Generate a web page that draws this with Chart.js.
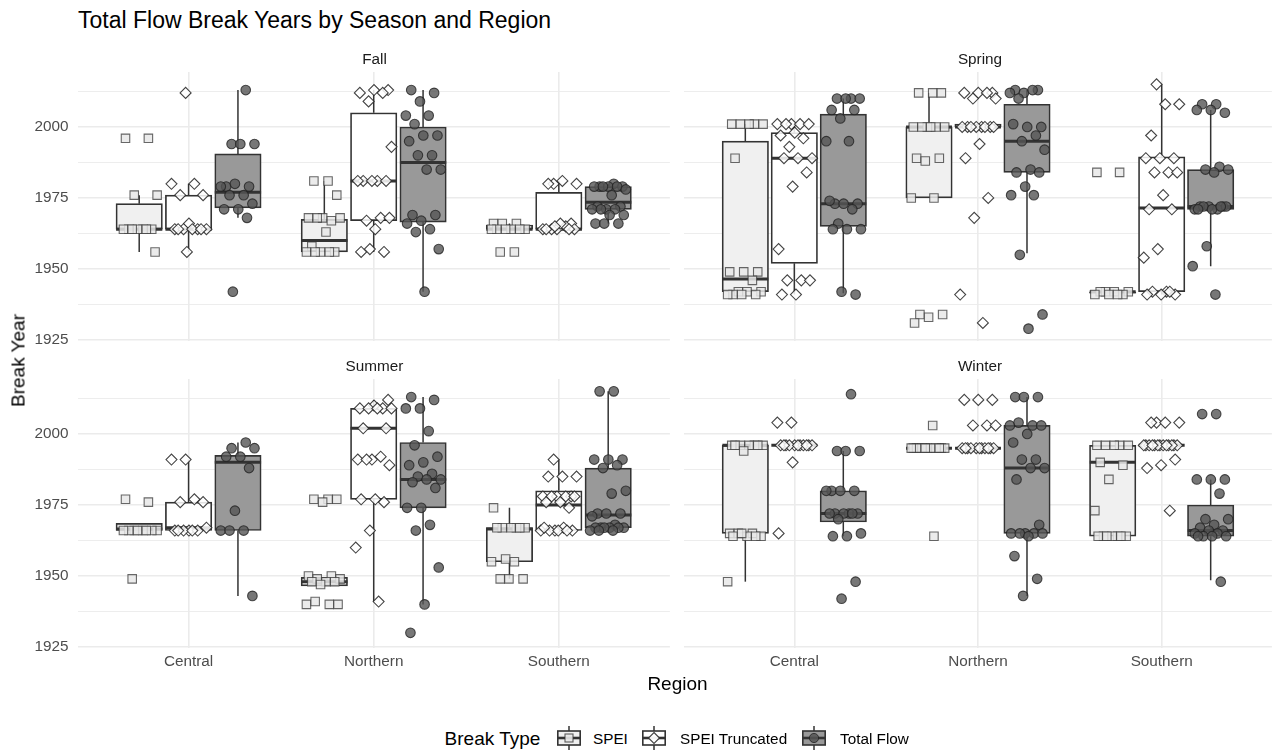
<!DOCTYPE html>
<html>
<head>
<meta charset="utf-8">
<title>Total Flow Break Years by Season and Region</title>
<script src="https://cdn.jsdelivr.net/npm/chart.js@4.4.1/dist/chart.umd.min.js"></script>
<style>
  body { margin: 0; background: #ffffff; }
  #fig { position: relative; width: 1279px; height: 754px; overflow: hidden;
         font-family: 'Liberation Sans', Arial, Helvetica, sans-serif; background: #ffffff; }
  .t { position: absolute; line-height: 1; white-space: nowrap; }
  canvas { position: absolute; }
  .key { position: absolute; }
</style>
</head>
<body>
<div id="fig">
  <canvas id="c0" width="677" height="309" style="left:0px;top:52px"></canvas>
  <canvas id="c1" width="602" height="309" style="left:677px;top:52px"></canvas>
  <canvas id="c2" width="677" height="321" style="left:0px;top:359px"></canvas>
  <canvas id="c3" width="602" height="321" style="left:677px;top:359px"></canvas>

  <div class="t" style="left:78px;top:8.8px;font-size:23px;color:#000">Total Flow Break Years by Season and Region</div>

  <div class="t" id="s0" style="left:77.5px;width:594px;text-align:center;top:50.8px;font-size:15.3px;color:#1a1a1a"></div>
  <div class="t" id="s1" style="left:682.5px;width:595px;text-align:center;top:50.8px;font-size:15.3px;color:#1a1a1a"></div>
  <div class="t" id="s2" style="left:77.5px;width:594px;text-align:center;top:358px;font-size:15.3px;color:#1a1a1a"></div>
  <div class="t" id="s3" style="left:682.5px;width:595px;text-align:center;top:358px;font-size:15.3px;color:#1a1a1a"></div>

  <div class="t" style="left:-82.3px;top:350.5px;width:200px;text-align:center;font-size:19px;line-height:19px;color:#000;transform:rotate(-90deg)">Break Year</div>
  <div class="t" style="left:577.5px;width:200px;text-align:center;top:674px;font-size:19px;color:#000">Region</div>

  <div class="t" style="left:444.6px;top:728.7px;font-size:19px;color:#000">Break Type</div>
  <svg class="key" style="left:557px;top:726px" width="24" height="24" viewBox="0 0 24 24">
    <line x1="12" y1="0" x2="12" y2="5" stroke="#333" stroke-width="1.5"/>
    <line x1="12" y1="19" x2="12" y2="24" stroke="#333" stroke-width="1.5"/>
    <rect x="0.8" y="5" width="22.4" height="14" fill="#f0f0f0" stroke="#333" stroke-width="1.6"/>
    <line x1="0.8" y1="12" x2="23.2" y2="12" stroke="#333" stroke-width="2.6"/>
    <rect x="8" y="8" width="8" height="8" fill="rgba(232,232,232,0.9)" stroke="rgba(55,55,55,0.8)" stroke-width="1.1"/>
  </svg>
  <div class="t" id="k0" style="left:593px;top:730.5px;font-size:15.3px;color:#000"></div>
  <svg class="key" style="left:642px;top:726px" width="24" height="24" viewBox="0 0 24 24">
    <line x1="12" y1="0" x2="12" y2="5" stroke="#333" stroke-width="1.5"/>
    <line x1="12" y1="19" x2="12" y2="24" stroke="#333" stroke-width="1.5"/>
    <rect x="0.8" y="5" width="22.4" height="14" fill="#ffffff" stroke="#333" stroke-width="1.6"/>
    <line x1="0.8" y1="12" x2="23.2" y2="12" stroke="#333" stroke-width="2.6"/>
    <polygon points="12,6.5 17.5,12 12,17.5 6.5,12" fill="rgba(255,255,255,0.95)" stroke="rgba(35,35,35,0.85)" stroke-width="1.1"/>
  </svg>
  <div class="t" id="k1" style="left:680px;top:730.5px;font-size:15.3px;color:#000"></div>
  <svg class="key" style="left:802px;top:726px" width="24" height="24" viewBox="0 0 24 24">
    <line x1="12" y1="0" x2="12" y2="5" stroke="#333" stroke-width="1.5"/>
    <line x1="12" y1="19" x2="12" y2="24" stroke="#333" stroke-width="1.5"/>
    <rect x="0.8" y="5" width="22.4" height="14" fill="#999999" stroke="#333" stroke-width="1.6"/>
    <line x1="0.8" y1="12" x2="23.2" y2="12" stroke="#333" stroke-width="2.6"/>
    <circle cx="12" cy="12" r="4.6" fill="rgba(85,85,85,0.85)" stroke="rgba(35,35,35,0.8)" stroke-width="1"/>
  </svg>
  <div class="t" id="k2" style="left:840px;top:730.5px;font-size:15.3px;color:#000"></div>
</div>

<script>
// ---- categories and labels ----
const SEASONS = ['Fall', 'Spring', 'Summer', 'Winter'];
const REGIONS = ['Central', 'Northern', 'Southern'];
const BREAK_TYPES = ['SPEI', 'SPEI Truncated', 'Total Flow'];
const Y_TICKS = [1925, 1950, 1975, 2000];

// ---- break years, per region (Central, Northern, Southern) ----
const fallSpei = [
  [1996, 1996, 1976, 1976, 1964, 1964, 1964, 1964, 1964, 1964, 1964, 1956],
  [1981, 1981, 1976, 1968, 1968, 1967, 1968, 1968, 1963, 1958, 1956, 1956, 1956, 1956, 1956],
  [1966, 1966, 1966, 1964, 1964, 1964, 1964, 1964, 1964, 1956, 1956]
];
const fallSpeiTrunc = [
  [2012, 1980, 1980, 1976, 1976, 1966, 1964, 1964, 1964, 1964, 1964, 1964, 1964, 1956],
  [2013, 2013, 2012, 2012, 2009, 1993, 1981, 1981, 1981, 1981, 1981, 1968, 1967, 1968, 1964, 1956, 1956, 1957],
  [1980, 1980, 1981, 1980, 1966, 1964, 1964, 1965, 1964, 1964, 1966, 1964, 1964, 1965]
];
const fallTotalFlow = [
  [2013, 1994, 1994, 1994, 1979, 1979, 1980, 1979, 1976, 1976, 1973, 1971, 1971, 1968, 1942],
  [2013, 2012, 2009, 2004, 2004, 2001, 1997, 1997, 1995, 1990, 1990, 1985, 1985, 1969, 1969, 1967, 1966, 1964, 1963, 1957, 1942],
  [1980, 1979, 1979, 1979, 1979, 1979, 1979, 1978, 1976, 1972, 1972, 1971, 1971, 1971, 1971, 1969, 1969, 1966, 1966, 1966]
];

const springSpei = [
  [2001, 2001, 2001, 2001, 2001, 1989, 1949, 1949, 1949, 1946, 1942, 1942, 1942, 1941, 1941, 1941, 1941],
  [2012, 2012, 2012, 2000, 2000, 2000, 2000, 2000, 2000, 1989, 1989, 1988, 1975, 1975, 1934, 1934, 1933, 1931],
  [1984, 1984, 1942, 1942, 1942, 1942, 1941, 1941, 1941, 1941]
];
const springSpeiTrunc = [
  [2001, 2001, 2001, 2001, 2001, 1998, 1997, 1996, 1993, 1989, 1989, 1989, 1984, 1979, 1957, 1946, 1946, 1946, 1941, 1941],
  [2012, 2012, 2012, 2012, 2010, 2010, 2000, 2000, 2000, 2000, 2000, 2000, 2000, 2000, 1994, 1989, 1975, 1968, 1941, 1931],
  [2015, 2008, 2008, 1997, 1989, 1989, 1989, 1984, 1984, 1984, 1976, 1971, 1971, 1957, 1954, 1942, 1942, 1941, 1941, 1941, 1942]
];
const springTotalFlow = [
  [2010, 2010, 2010, 2010, 2006, 2006, 2003, 1995, 1995, 1973, 1973, 1973, 1974, 1971, 1966, 1964, 1964, 1964, 1941, 1942],
  [2013, 2013, 2012, 2012, 2013, 2010, 2000, 2000, 2001, 1997, 1995, 1992, 1985, 1984, 1984, 1979, 1976, 1976, 1955, 1934, 1929],
  [2008, 2008, 2005, 2006, 2006, 1986, 1985, 1985, 1984, 1972, 1972, 1972, 1971, 1971, 1972, 1972, 1971, 1971, 1972, 1958, 1951, 1941]
];

const summerSpei = [
  [1977, 1976, 1966, 1966, 1966, 1966, 1966, 1966, 1966, 1966, 1949],
  [1977, 1977, 1977, 1976, 1950, 1950, 1949, 1949, 1948, 1948, 1948, 1947, 1940, 1940, 1941, 1940],
  [1974, 1967, 1967, 1967, 1967, 1967, 1967, 1956, 1955, 1955, 1949, 1949, 1949]
];
const summerSpeiTrunc = [
  [1991, 1991, 1977, 1976, 1976, 1966, 1966, 1966, 1966, 1967, 1966, 1966],
  [2012, 2010, 2009, 2009, 2009, 2009, 2009, 2002, 2002, 1991, 1991, 1992, 1991, 1989, 1977, 1977, 1976, 1966, 1960, 1941],
  [1991, 1985, 1985, 1985, 1978, 1978, 1978, 1978, 1978, 1978, 1976, 1976, 1974, 1966, 1966, 1967, 1966, 1966, 1966, 1967, 1966]
];
const summerTotalFlow = [
  [1997, 1995, 1995, 1992, 1992, 1988, 1973, 1966, 1966, 1966, 1943],
  [2013, 2012, 2009, 2009, 2001, 1996, 1992, 1990, 1989, 1986, 1985, 1984, 1984, 1983, 1981, 1974, 1974, 1968, 1966, 1953, 1940, 1930],
  [2015, 2015, 1991, 1991, 1991, 1989, 1988, 1980, 1979, 1972, 1972, 1972, 1971, 1968, 1967, 1967, 1967, 1967, 1967, 1967, 1966, 1966, 1966]
];

const winterSpei = [
  [1996, 1996, 1996, 1996, 1996, 1996, 1996, 1994, 1965, 1965, 1965, 1964, 1964, 1964, 1964, 1965, 1948],
  [2003, 1995, 1995, 1995, 1995, 1995, 1995, 1995, 1995, 1995, 1995, 1995, 1995, 1964],
  [1996, 1996, 1996, 1996, 1996, 1990, 1989, 1984, 1973, 1964, 1964, 1964, 1964, 1964, 1964, 1964]
];
const winterSpeiTrunc = [
  [2004, 2004, 1996, 1996, 1996, 1996, 1996, 1996, 1996, 1996, 1996, 1996, 1996, 1990, 1965],
  [2012, 2012, 2012, 2003, 2003, 2003, 1995, 1995, 1995, 1995, 1995, 1995, 1995, 1995, 1995, 1995, 1995],
  [2004, 2004, 2004, 2004, 1996, 1996, 1996, 1996, 1996, 1996, 1996, 1996, 1996, 1996, 1996, 1996, 1996, 1991, 1989, 1988, 1973]
];
const winterTotalFlow = [
  [2014, 1994, 1994, 1994, 1980, 1980, 1980, 1980, 1972, 1972, 1972, 1972, 1972, 1972, 1970, 1965, 1964, 1964, 1948, 1942],
  [2013, 2013, 2013, 2003, 2003, 2004, 2003, 2000, 1997, 1991, 1991, 1988, 1988, 1984, 1968, 1965, 1965, 1965, 1965, 1965, 1964, 1957, 1949, 1943],
  [2007, 2007, 1984, 1984, 1984, 1979, 1970, 1970, 1968, 1967, 1966, 1966, 1965, 1965, 1964, 1964, 1964, 1964, 1948]
];

// ---- box summaries per region: [lower whisker, Q1, median, Q3, upper whisker] ----
const fallSpeiBox = [[1956, 1964, 1964, 1973, 1976], [1956, 1956, 1960, 1967.5, 1981], [1964, 1964, 1964, 1965.5, 1966]];
const fallSpeiTruncBox = [[1956, 1964, 1964, 1976, 1980], [1956, 1967, 1981, 2005, 2013], [1964, 1964, 1964, 1977, 1981]];
const fallTotalFlowBox = [[1968, 1971.5, 1977, 1990.5, 2013], [1942, 1966.5, 1987.5, 2000, 2013], [1966, 1971, 1973.5, 1979, 1980]];

const springSpeiBox = [[1941, 1942, 1946.5, 1995, 2001], [1975, 1975, 2000, 2000, 2012], [1941, 1941.5, 1942, 1942, 1942]];
const springSpeiTruncBox = [[1941, 1952, 1989, 1998, 2001], [2000, 2000, 2000, 2001, 2001], [1941, 1942, 1971.5, 1989.5, 2015]];
const springTotalFlowBox = [[1941.5, 1965, 1973, 2004.5, 2010], [1955.5, 1984, 1995, 2008, 2013], [1951, 1971, 1972, 1985, 2006]];

const summerSpeiBox = [[1966, 1966, 1966.5, 1968.5, 1968.5], [1946.5, 1946.5, 1948, 1949.5, 1949.5], [1949, 1955, 1966.5, 1967, 1974]];
const summerSpeiTruncBox = [[1966, 1966, 1967, 1976, 1991], [1941, 1977, 2002, 2009, 2012], [1966, 1966, 1975, 1980, 1991]];
const summerTotalFlowBox = [[1943, 1966, 1990, 1992.5, 1997], [1940, 1974, 1984, 1997, 2013], [1966, 1967, 1971.5, 1988, 2015]];

const winterSpeiBox = [[1948, 1965, 1996, 1996, 1996], [1995, 1995, 1995, 1995, 1995], [1964, 1964, 1990, 1996, 1996]];
const winterSpeiTruncBox = [[1996, 1996, 1996, 1996, 1996], [1995, 1995, 1995, 1995, 1995], [1996, 1996, 1996, 1996, 1996]];
const winterTotalFlowBox = [[1964, 1969, 1972, 1980, 1994], [1943, 1965, 1988, 2003, 2013], [1948.5, 1964, 1966, 1975, 1984]];

// ---- panel wiring ----
const panels = [
  { points: [fallSpei, fallSpeiTrunc, fallTotalFlow], boxes: [fallSpeiBox, fallSpeiTruncBox, fallTotalFlowBox] },
  { points: [springSpei, springSpeiTrunc, springTotalFlow], boxes: [springSpeiBox, springSpeiTruncBox, springTotalFlowBox] },
  { points: [summerSpei, summerSpeiTrunc, summerTotalFlow], boxes: [summerSpeiBox, summerSpeiTruncBox, summerTotalFlowBox] },
  { points: [winterSpei, winterSpeiTrunc, winterTotalFlow], boxes: [winterSpeiBox, winterSpeiTruncBox, winterTotalFlowBox] }
];

// ---- geometry and styling ----
Chart.defaults.font.family = "'Liberation Sans', Arial, Helvetica, sans-serif";
const X_MIN = -0.6, X_MAX = 2.6;
const Y_MIN = 1924.65, Y_MAX = 2019.35;
const PANEL_W = 594;
const PX_PER_UNIT = PANEL_W / (X_MAX - X_MIN);
const DODGE = [-0.2667, 0, 0.2667];
const BOX_W = 0.25;
const JITTER_W = 0.1;
const INK = '#333333';
const GRID = '#ebebeb';

const TYPE_STYLE = [
  { fill: '#f0f0f0', shape: 'rect',    radius: 6,   bg: 'rgba(232,232,232,0.85)', bd: 'rgba(55,55,55,0.75)' },
  { fill: '#ffffff', shape: 'rectRot', radius: 5.5, bg: 'rgba(255,255,255,0.85)', bd: 'rgba(35,35,35,0.85)' },
  { fill: '#999999', shape: 'circle',  radius: 4.8, bg: 'rgba(85,85,85,0.8)',     bd: 'rgba(35,35,35,0.8)' }
];

// horizontal grid: majors at the labelled years, minors half-way between
const GRID_YEARS = [];
Y_TICKS.forEach(v => { GRID_YEARS.push(v, v + (Y_TICKS[1] - Y_TICKS[0]) / 2); });

// deterministic horizontal spread for overlapping points
function spread(i, k, r) {
  const u = (i * 0.6180339887 + k * 0.29 + r * 0.47 + 0.13) % 1;
  return (u * 2 - 1) * JITTER_W;
}

function buildDatasets(panel) {
  const ds = [];
  const half = BOX_W / 2;
  panel.points.forEach((byRegion, k) => {
    const st = TYPE_STYLE[k];
    const pts = [];
    byRegion.forEach((years, r) => {
      years.forEach((yr, i) => pts.push({ x: r + DODGE[k] + spread(i, k, r), y: yr }));
    });
    ds.push({
      type: 'scatter', label: BREAK_TYPES[k], data: pts,
      pointStyle: st.shape, pointRadius: st.radius,
      pointBackgroundColor: st.bg, pointBorderColor: st.bd, pointBorderWidth: 1.1,
      order: 0
    });
  });
  panel.boxes.forEach((byRegion, k) => {
    const st = TYPE_STYLE[k];
    const bars = [], med = [], whisk = [];
    byRegion.forEach(([lo, q1, m, q3, hi], r) => {
      const c = r + DODGE[k];
      bars.push({ x: c, y: [q1, q3] });
      med.push({ x: c - half, y: m }, { x: c + half, y: m }, { x: c, y: null });
      if (q1 > lo) whisk.push({ x: c, y: lo }, { x: c, y: q1 }, { x: c, y: null });
      if (hi > q3) whisk.push({ x: c, y: q3 }, { x: c, y: hi }, { x: c, y: null });
    });
    ds.push({ type: 'line', data: med, borderColor: INK, borderWidth: 3, borderCapStyle: 'butt',
              pointRadius: 0, spanGaps: false, order: 1 });
    ds.push({ type: 'bar', data: bars, backgroundColor: st.fill, borderColor: INK, borderWidth: 1.7,
              borderSkipped: false, grouped: false, barThickness: BOX_W * PX_PER_UNIT, order: 2 });
    ds.push({ type: 'line', data: whisk, borderColor: INK, borderWidth: 1.5, borderCapStyle: 'butt',
              pointRadius: 0, spanGaps: false, order: 3 });
  });
  return ds;
}

function makeChart(idx) {
  const leftCol = idx % 2 === 0;
  const bottomRow = idx >= 2;
  const ctx = document.getElementById('c' + idx);
  return new Chart(ctx, {
    type: 'bar',
    data: { datasets: buildDatasets(panels[idx]) },
    options: {
      responsive: false,
      animation: false,
      events: [],
      layout: { padding: { left: 0, right: leftCol ? 5.5 : 1.5, top: 20, bottom: 0 } },
      plugins: { legend: { display: false }, tooltip: { enabled: false }, title: { display: false } },
      scales: {
        x: {
          type: 'linear', min: X_MIN, max: X_MAX, offset: false,
          afterBuildTicks: s => { s.ticks = REGIONS.map((_, i) => ({ value: i })); },
          afterFit: s => { s.height = bottomRow ? 32 : 20; },
          grid: { offset: false, color: GRID, lineWidth: 1.6, drawTicks: false },
          border: { display: false },
          ticks: {
            display: bottomRow, autoSkip: false, maxRotation: 0, padding: 5,
            color: '#4d4d4d', font: { size: 15.3 },
            callback: v => REGIONS[v]
          }
        },
        y: {
          type: 'linear', min: Y_MIN, max: Y_MAX,
          afterBuildTicks: s => { s.ticks = GRID_YEARS.map(v => ({ value: v })); },
          afterFit: s => { s.width = leftCol ? 77.5 : 5.5; },
          grid: {
            drawTicks: false,
            color: GRID,
            lineWidth: c => (c.tick && Y_TICKS.includes(c.tick.value)) ? 1.6 : 0.9
          },
          border: { display: false },
          ticks: {
            display: leftCol, autoSkip: false, padding: 9,
            color: '#4d4d4d', font: { size: 15.3 },
            callback: v => Y_TICKS.includes(v) ? String(v) : ''
          }
        }
      }
    }
  });
}

SEASONS.forEach((name, i) => { document.getElementById('s' + i).textContent = name; });
BREAK_TYPES.forEach((name, i) => { document.getElementById('k' + i).textContent = name; });
[0, 1, 2, 3].forEach(makeChart);
</script>
</body>
</html>
